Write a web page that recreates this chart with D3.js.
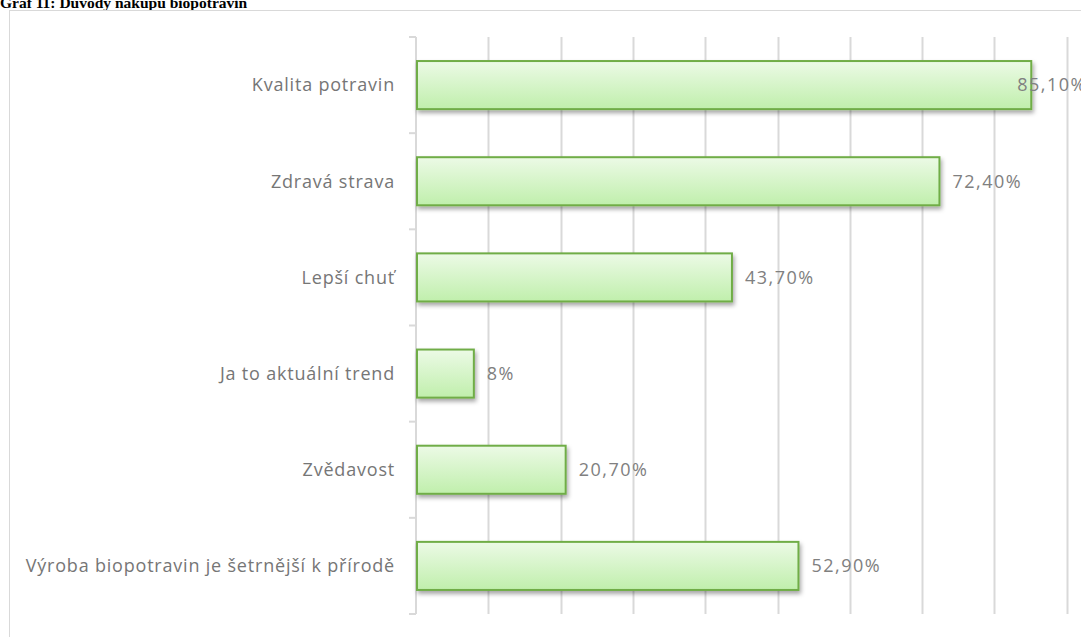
<!DOCTYPE html>
<html>
<head>
<meta charset="utf-8">
<script src="https://cdn.jsdelivr.net/npm/d3@7"></script>
<style>
  html, body { margin: 0; padding: 0; background: #fff; overflow: hidden; }
  svg { display: block; }
</style>
</head>
<body>
<div id="chart"></div>
<script>
// Důvody nákupu biopotravin – podíl respondentů (%)
const categories = [
  "Kvalita potravin",
  "Zdravá strava",
  "Lepší chuť",
  "Ja to aktuální trend",
  "Zvědavost",
  "Výroba biopotravin je šetrnější k přírodě"
];
const values = [85.1, 72.4, 43.7, 8, 20.7, 52.9];
const valueLabels = ["85,10%", "72,40%", "43,70%", "8%", "20,70%", "52,90%"];
const xTicks = [0, 10, 20, 30, 40, 50, 60, 70, 80, 90, 100];
const title = "Graf 11: Důvody nákupu biopotravin";

const W = 1081, H = 637;
const margin = { top: 37, right: -58, bottom: 23, left: 416 };

const svg = d3.select("#chart").append("svg")
  .attr("width", W).attr("height", H);

const defs = svg.append("defs");
const grad = defs.append("linearGradient")
  .attr("id", "barFill").attr("x1", 0).attr("y1", 0).attr("x2", 0).attr("y2", 1);
grad.append("stop").attr("offset", "0%").attr("stop-color", "#ecfae6");
grad.append("stop").attr("offset", "100%").attr("stop-color", "#c0efac");

const shadow = defs.append("filter").attr("id", "barShadow")
  .attr("x", "-5%").attr("y", "-20%").attr("width", "115%").attr("height", "160%");
shadow.append("feDropShadow")
  .attr("dx", 1.5).attr("dy", 3).attr("stdDeviation", 2)
  .attr("flood-color", "#000").attr("flood-opacity", 0.35);

// title (partly above the visible area)
svg.append("text")
  .attr("x", 0).attr("y", 8)
  .attr("font-family", "'Liberation Serif', 'Times New Roman', serif")
  .attr("font-weight", "bold")
  .attr("font-size", 15.5)
  .attr("fill", "#000")
  .text(title);

// chart area frame
svg.append("rect")
  .attr("x", 9.5).attr("y", 10.5)
  .attr("width", W + 20).attr("height", H + 20)
  .attr("fill", "none").attr("stroke", "#d9d9d9").attr("stroke-width", 1);

const x = d3.scaleLinear()
  .domain([0, 100])
  .range([margin.left, W - margin.right]);

const y = d3.scaleBand()
  .domain(categories)
  .range([margin.top, H - margin.bottom])
  .paddingInner(0.5).paddingOuter(0.25);

// vertical gridlines
svg.append("g")
  .selectAll("line")
  .data(xTicks.filter(t => t > 0))
  .join("line")
  .attr("x1", d => Math.round(x(d)) + 0.5).attr("x2", d => Math.round(x(d)) + 0.5)
  .attr("y1", margin.top).attr("y2", H - margin.bottom)
  .attr("stroke", "#d9d9d9").attr("stroke-width", 2);

// category axis with ticks between the bands
const yAxisG = svg.append("g");
yAxisG.append("line")
  .attr("x1", x(0)).attr("x2", x(0))
  .attr("y1", margin.top).attr("y2", H - margin.bottom)
  .attr("stroke", "#d9d9d9").attr("stroke-width", 2);
const step = y.step();
const boundaries = d3.range(categories.length + 1).map(i => margin.top + i * step);
yAxisG.selectAll("line.tick")
  .data(boundaries)
  .join("line")
  .attr("class", "tick")
  .attr("x1", x(0) - 7).attr("x2", x(0))
  .attr("y1", d => d).attr("y2", d => d)
  .attr("stroke", "#d9d9d9").attr("stroke-width", 2);

const labelFont = "'Open Sans', Lato, sans-serif";
const labelSize = 18;

yAxisG.selectAll("text")
  .data(categories)
  .join("text")
  .attr("x", x(0) - 21)
  .attr("y", d => y(d) + y.bandwidth() / 2)
  .attr("dy", "0.35em")
  .attr("text-anchor", "end")
  .attr("font-family", labelFont)
  .attr("font-size", labelSize)
  .attr("letter-spacing", "0.8px")
  .attr("fill", "#767676")
  .text(d => d);

// bars
svg.append("g")
  .selectAll("rect")
  .data(values)
  .join("rect")
  .attr("x", x(0) + 1)
  .attr("y", (d, i) => y(categories[i]))
  .attr("width", d => x(d) - x(0) - 1)
  .attr("height", y.bandwidth())
  .attr("fill", "url(#barFill)")
  .attr("stroke", "#70ad47")
  .attr("stroke-width", 2)
  .attr("filter", "url(#barShadow)");

// value labels
const vl = svg.append("g")
  .selectAll("text")
  .data(values)
  .join("text")
  .attr("y", (d, i) => y(categories[i]) + y.bandwidth() / 2)
  .attr("dy", "0.35em")
  .attr("font-family", labelFont)
  .attr("font-size", labelSize)
  .attr("letter-spacing", "1.5px")
  .attr("fill", "#808080")
  .text((d, i) => valueLabels[i]);
vl.attr("x", function(d) {
  const w = this.getComputedTextLength();
  return Math.min(x(d) + 13, W + 6 - w);
});
</script>
</body>
</html>
